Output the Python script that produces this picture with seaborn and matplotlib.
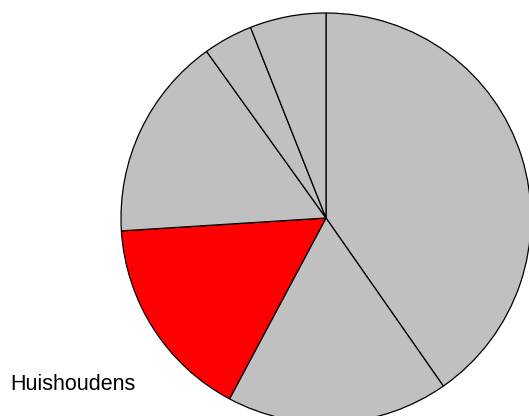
import matplotlib
matplotlib.use("Agg")
import matplotlib.pyplot as plt
import seaborn as sns

sns.set_style("white")
plt.rcParams['font.family'] = ['Liberation Sans', 'DejaVu Sans']

categories = ["A", "B", "Huishoudens", "D", "E", "F"]
values = [40.3, 17.5, 16.2, 16.1, 3.9, 6.0]
colors = ["#c0c0c0", "#c0c0c0", "#ff0000", "#c0c0c0", "#c0c0c0", "#c0c0c0"]
label_text = "Huishoudens"

W, H = 529, 416
fig = plt.figure(figsize=(W / 100, H / 100), dpi=100)
ax = fig.add_axes([0, 0, 1, 1])
ax.pie(values, colors=colors, startangle=90, counterclock=False,
       center=(326, H - 218), radius=205,
       wedgeprops=dict(edgecolor="black", linewidth=0.9))
ax.set_xlim(0, W)
ax.set_ylim(0, H)
ax.set_aspect("equal")
ax.axis("off")
fig.text(10 / W, 1 - 385 / H, label_text, ha="left", va="center",
         fontsize=15.5, color="black")
fig.savefig("out.png", dpi=100)
